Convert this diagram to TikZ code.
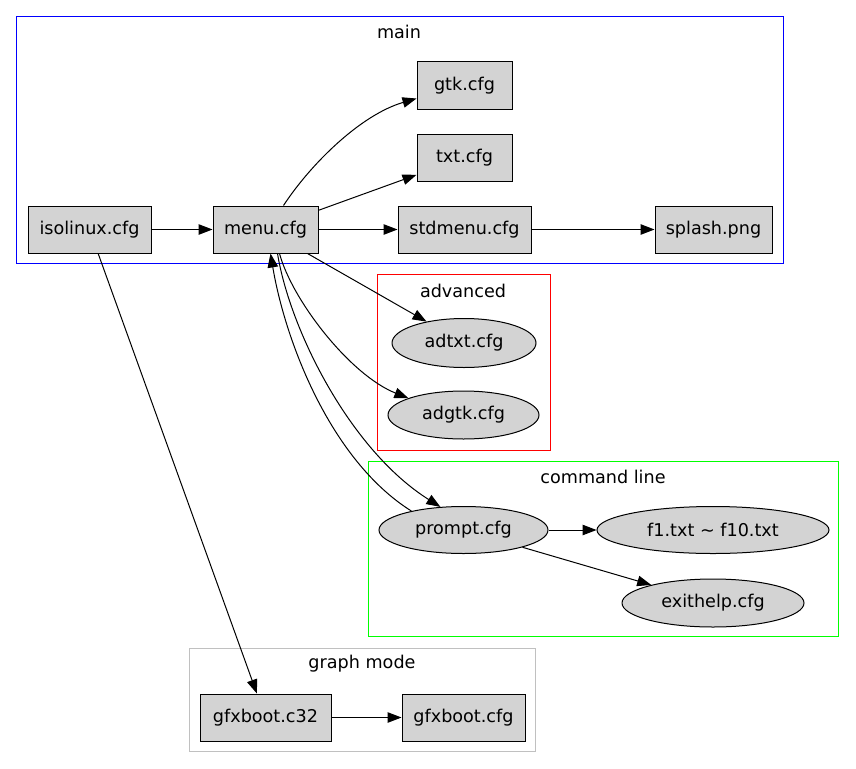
\documentclass[tikz,border=0pt]{standalone}
\usepackage{fontspec}
\setmainfont{DejaVu Sans}
\usetikzlibrary{arrows.meta,shapes.geometric}
\definecolor{nodefill}{HTML}{D3D3D3}
\definecolor{gvgreen}{HTML}{00FF00}
\definecolor{gvgray}{HTML}{C0C0C0}
\begin{document}
\begin{tikzpicture}[x=1pt,y=-1pt,
  font=\fontsize{17.6}{21}\selectfont,
  boxnode/.style={draw=black, fill=nodefill, line width=1pt, rectangle, minimum height=48pt, inner sep=0pt},
  ellnode/.style={draw=black, fill=nodefill, line width=1pt, ellipse, inner sep=0pt},
  cluster/.style={line width=1.3pt},
  conn/.style={line width=1pt, -{Triangle[length=14pt,width=10.5pt]}},
]
\useasboundingbox[fill=white] (0,0) rectangle (856,768);

% clusters
\draw[cluster, draw=blue] (16.5,16.5) rectangle (783.5,263.5);
\draw[cluster, draw=red] (377.5,274.5) rectangle (550.5,450.5);
\draw[cluster, draw=gvgreen] (368.5,461.5) rectangle (838.5,636.5);
\draw[cluster, draw=gvgray] (189.5,648.5) rectangle (535.5,751.5);
\node (lmain) at (399,32) {main};
\node (ladv) at (463,291) {advanced};
\node (lcmd) at (603,477) {command line};
\node (lgraph) at (362,664) {graph mode};

% nodes
\node[boxnode, minimum width=123pt, minimum height=47pt] (isolinux) at (89.5,229.5) {isolinux.cfg};
\node[boxnode, minimum width=105pt, minimum height=47pt] (menu) at (265.5,229.5) {menu.cfg};
\node[boxnode, minimum width=95pt, minimum height=47pt] (gtk) at (464.5,85.5) {gtk.cfg};
\node[boxnode, minimum width=95pt, minimum height=47pt] (txt) at (464.5,157.5) {txt.cfg};
\node[boxnode, minimum width=133pt, minimum height=47pt] (stdmenu) at (464.5,229.5) {stdmenu.cfg};
\node[boxnode, minimum width=117pt, minimum height=47pt] (splash) at (713.5,229.5) {splash.png};
\node[ellnode, minimum width=144pt, minimum height=49pt] (adtxt) at (464,343) {adtxt.cfg};
\node[ellnode, minimum width=151pt, minimum height=48pt] (adgtk) at (463.5,415) {adgtk.cfg};
\node[ellnode, minimum width=169pt, minimum height=47pt] (prompt) at (463.5,530) {prompt.cfg};
\node[ellnode, minimum width=232pt, minimum height=47pt] (f1) at (713,530) {f1.txt \textasciitilde{} f10.txt};
\node[ellnode, minimum width=182pt, minimum height=48pt] (exithelp) at (713,603) {exithelp.cfg};
\node[boxnode, minimum width=131pt, minimum height=47pt] (gfx32) at (265.5,717.5) {gfxboot.c32};
\node[boxnode, minimum width=123pt, minimum height=47pt] (gfxcfg) at (463.5,717.5) {gfxboot.cfg};

% edges
\draw[conn] (isolinux) -- (menu);
\draw[conn] ([xshift=18pt]menu.north) .. controls (310,165) and (360,115) .. ([yshift=-13pt]gtk.west);
\draw[conn] (menu) -- (txt);
\draw[conn] (menu) -- (stdmenu);
\draw[conn] (stdmenu) -- (splash);
\draw[conn] ([xshift=42pt]menu.south) -- (adtxt);
\draw[conn] ([xshift=14pt]menu.south) .. controls (292,300) and (350,375) .. (adgtk.163);
\draw[conn] ([xshift=12pt]menu.south) .. controls (290,330) and (350,450) .. (prompt.135);
\draw[conn] (prompt.160) .. controls (330,460) and (285,340) .. ([xshift=5pt]menu.south);
\draw[conn] (prompt) -- (f1);
\draw[conn] (prompt) -- (exithelp);
\draw[conn] (isolinux) -- (gfx32);
\draw[conn] (gfx32) -- (gfxcfg);
\end{tikzpicture}
\end{document}
